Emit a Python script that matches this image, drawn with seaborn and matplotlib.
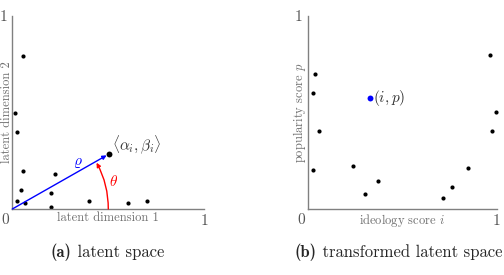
import numpy as np
import pandas as pd
import seaborn as sns
import matplotlib.pyplot as plt

sns.set_style("white")
plt.rcParams['font.family'] = ['cmr10', 'DejaVu Serif']
plt.rcParams['mathtext.fontset'] = 'cm'
plt.rcParams['axes.formatter.use_mathtext'] = True

# (a) latent space: items plus the highlighted item <alpha_i, beta_i>
lat_x = [0.054, 0.014, 0.024, 0.054, 0.044, 0.024, 0.065, 0.224, 0.203, 0.203, 0.401, 0.603, 0.702]
lat_y = [0.794, 0.499, 0.399, 0.198, 0.100, 0.041, 0.031, 0.181, 0.081, 0.012, 0.041, 0.031, 0.041]
alpha_i, beta_i = 0.504, 0.285
arc_radius = 0.5

# (b) transformed latent space: items plus the highlighted item (i, p)
ideo = [0.037, 0.026, 0.058, 0.026, 0.239, 0.301, 0.370, 0.713, 0.764, 0.845, 0.965, 0.996, 0.975]
popu = [0.699, 0.599, 0.403, 0.204, 0.224, 0.076, 0.145, 0.055, 0.116, 0.214, 0.798, 0.501, 0.403]
item_i, item_p = 0.331, 0.577

spine_col = '#808080'
label_col = '#707070'
tick_col = '#555555'

fig = plt.figure(figsize=(5.04, 2.75), dpi=100)
W, H = 504, 275
ax1 = fig.add_axes([12.3 / W, 1 - 209 / H, 192 / W, 193 / H])
ax2 = fig.add_axes([307.7 / W, 1 - 209 / H, 189.3 / W, 193 / H])
renderer = fig.canvas.get_renderer()


def caption(ax, tag, words, xc):
    # bold tag + roman words, centred as one line
    t1 = ax.text(0, -0.223, tag, transform=ax.transAxes, family='cmb10', fontsize=12,
                 ha='left', va='center')
    t2 = ax.text(0, -0.223, ' ' + words, transform=ax.transAxes, fontsize=12,
                 ha='left', va='center')
    w1 = t1.get_window_extent(renderer).width
    w2 = t2.get_window_extent(renderer).width
    axw = ax.get_window_extent(renderer).width
    x0 = xc - (w1 + w2) / 2 / axw
    t1.set_x(x0)
    t2.set_x(x0 + w1 / axw)


def style(ax, xlabel, ylabel):
    ax.set_xlim(0, 1)
    ax.set_ylim(0, 1)
    sns.despine(ax=ax)
    for s in ['left', 'bottom']:
        ax.spines[s].set_color(spine_col)
        ax.spines[s].set_linewidth(1.0)
    ax.set_xticks([1])
    ax.set_yticks([1])
    ax.set_xticklabels(['1'])
    ax.set_yticklabels(['1'])
    ax.tick_params(direction='inout', length=4, width=0.8, color=spine_col,
                   labelsize=11, labelcolor=tick_col, pad=1.5)
    ax.annotate('0', (0, 0), xytext=(-2, -3), textcoords='offset points',
                ha='right', va='top', fontsize=11, color=tick_col)
    ax.set_xlabel(xlabel, fontsize=9, color=label_col)
    ax.set_ylabel(ylabel, fontsize=9, color=label_col)
    ax.xaxis.set_label_coords(0.5, -0.015)
    ax.yaxis.set_label_coords(0.003, 0.5)


# panel (a)
sns.scatterplot(x=lat_x, y=lat_y, color='black', s=9, linewidth=0, ax=ax1, clip_on=False)
sns.scatterplot(x=[alpha_i], y=[beta_i], color='black', s=18, linewidth=0, ax=ax1, zorder=5)
ax1.annotate('', xy=(alpha_i, beta_i), xytext=(0, 0),
             arrowprops=dict(arrowstyle='-|>', color='blue', lw=1.0, shrinkA=0, shrinkB=2,
                             mutation_scale=6))
theta = np.arctan2(beta_i, alpha_i)
ax1.annotate('', xy=(arc_radius * np.cos(theta), arc_radius * np.sin(theta)),
             xytext=(arc_radius, 0),
             arrowprops=dict(arrowstyle='-|>', color='red', lw=1.0, shrinkA=0, shrinkB=1,
                             mutation_scale=6,
                             connectionstyle=f'arc3,rad={np.tan(theta / 2) / 2:.3f}'))
ax1.text(0.52, 0.335, r'$\langle\alpha_i,\beta_i\rangle$', fontsize=11, color='#333333',
         ha='left', va='center')
ax1.text(0.339, 0.237, r'$\varrho$', fontsize=11, color='blue', ha='center', va='center')
ax1.text(0.527, 0.141, r'$\theta$', fontsize=11, color='red', ha='center', va='center')
style(ax1, 'latent dimension 1', 'latent dimension 2')
caption(ax1, '(a)', 'latent space', 0.495)

# panel (b)
sns.scatterplot(x=ideo, y=popu, color='black', s=9, linewidth=0, ax=ax2, clip_on=False)
sns.scatterplot(x=[item_i], y=[item_p], color='blue', s=18, linewidth=0, ax=ax2)
ax2.text(0.343, 0.577, r'$(i,p)$', fontsize=11, color='#333333', ha='left', va='center')
style(ax2, r'ideology score $i$', r'popularity score $p$')
caption(ax2, '(b)', 'transformed latent space', 0.48)

plt.savefig('out.png', dpi=100)
